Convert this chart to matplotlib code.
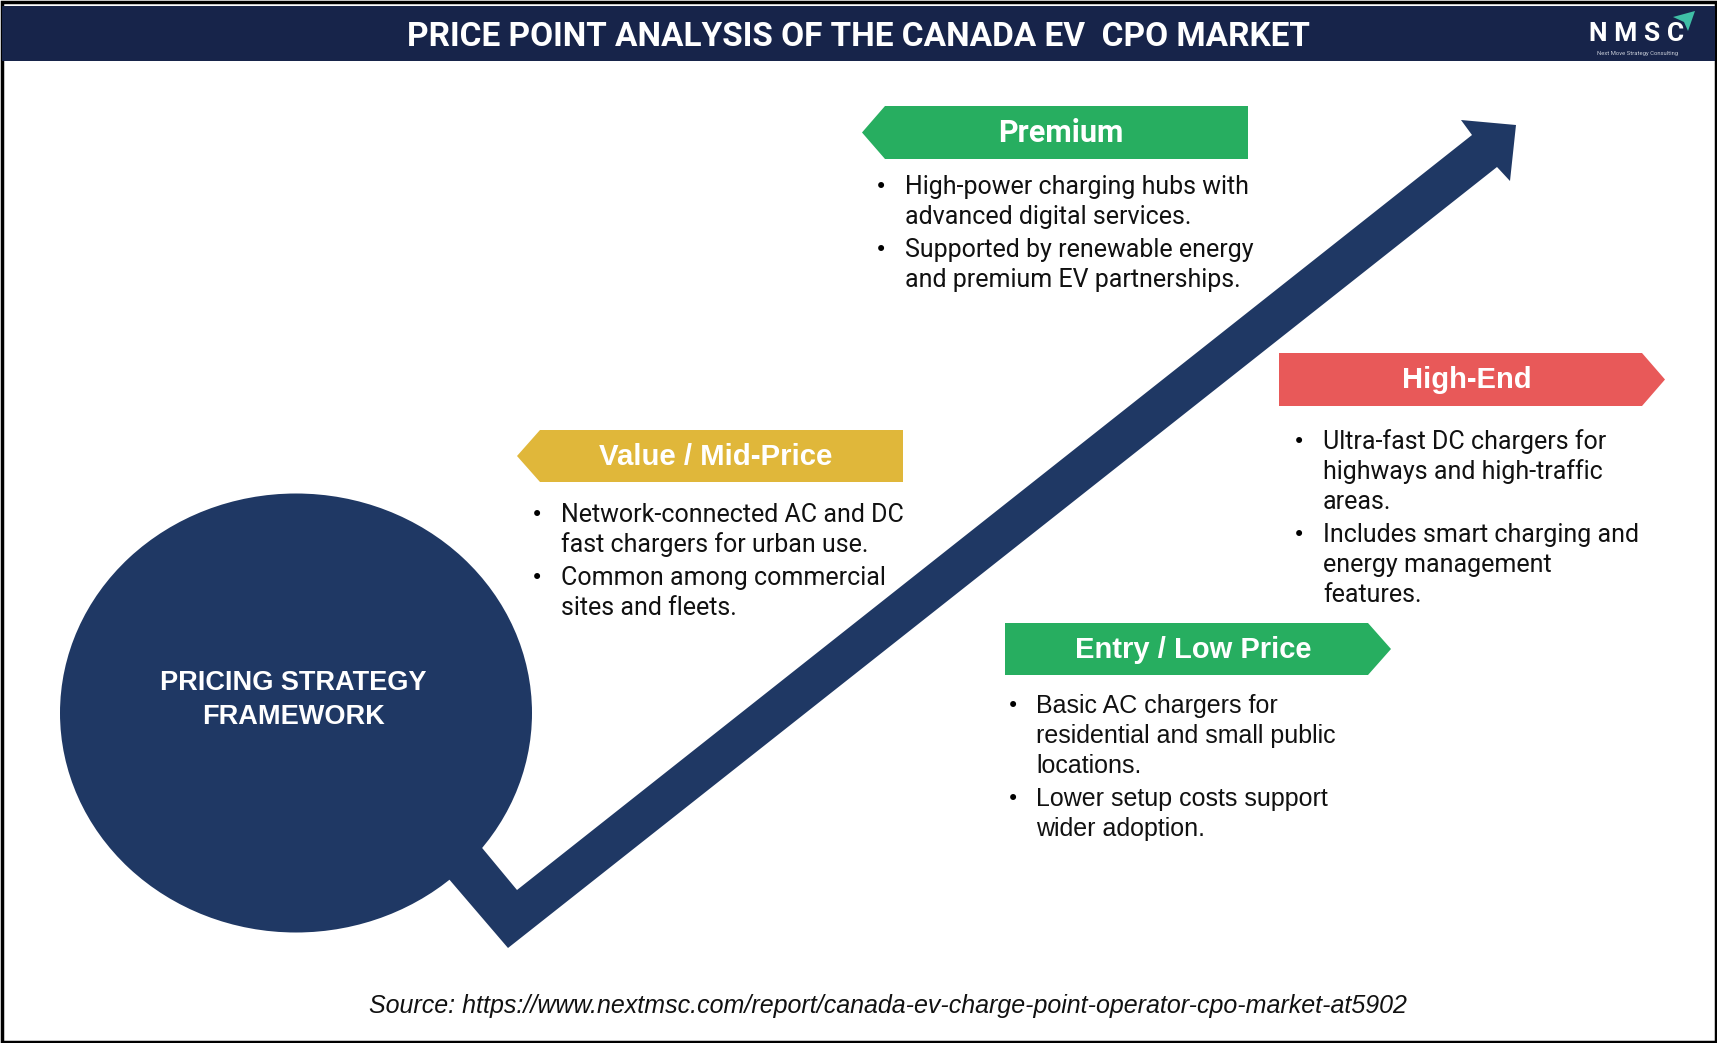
import matplotlib
matplotlib.use('Agg')
import matplotlib.pyplot as plt
from matplotlib.patches import Polygon, Ellipse, Rectangle

# Dane: poziomy cenowe i opisy
tiers = ['Premium', 'Value / Mid-Price', 'High-End', 'Entry / Low Price']
tier_colors = ['#27ae60', '#e0b73a', '#e85959', '#27ae60']
tier_bullets = [
    [['High-power charging hubs with', 'advanced digital services.'],
     ['Supported by renewable energy', 'and premium EV partnerships.']],
    [['Network-connected AC and DC', 'fast chargers for urban use.'],
     ['Common among commercial', 'sites and fleets.']],
    [['Ultra-fast DC chargers for', 'highways and high-traffic', 'areas.'],
     ['Includes smart charging and', 'energy management', 'features.']],
    [['Basic AC chargers for', 'residential and small public', 'locations.'],
     ['Lower setup costs support', 'wider adoption.']],
]
title = 'PRICE POINT ANALYSIS OF THE CANADA EV  CPO MARKET'
center_label = 'PRICING STRATEGY\nFRAMEWORK'
source = 'Source: https://www.nextmsc.com/report/canada-ev-charge-point-operator-cpo-market-at5902'

# Układ (piksele, oś y w dół)
W, H = 1717, 1043
navy = '#1f3864'
header_col = '#17244a'
# banery: lewa, prawa, góra, dół, kierunek grota
banners = [(885, 1248, 106, 159, 'left'),
           (540, 903, 430, 482, 'left'),
           (1279, 1642, 353, 406, 'right'),
           (1005, 1368, 623, 675, 'right')]
banner_fonts = ['Roboto', 'Liberation Sans', 'Liberation Sans', 'Liberation Sans']
banner_sizes = [22, 21.2, 21, 21]
body_fonts = ['Roboto', 'Roboto', 'Roboto', 'Liberation Sans']
# pozycje tekstu: x kropki, x tekstu, y pierwszej linii
text_pos = [(881, 905, 187), (537, 561, 515), (1299, 1323, 442), (1013, 1036, 706)]
line_gap = 30
bullet_gap = 33

fig = plt.figure(figsize=(W / 100, H / 100), dpi=100)
ax = fig.add_axes([0, 0, 1, 1])
ax.set_xlim(0, W)
ax.set_ylim(H, 0)
ax.axis('off')

# Ramka i nagłówek
ax.add_patch(Rectangle((1.5, 1.5), W - 3, H - 3, fill=False, edgecolor='black', linewidth=2.5))
ax.add_patch(Rectangle((2, 6), W - 4, 55, facecolor=header_col, edgecolor='none'))
ax.text(858, 37, title, color='white', fontsize=24, fontweight='bold',
        family='Roboto', ha='center', va='center')

# Logo NMSC
ax.text(1637, 34, 'N M S C', color='white', fontsize=19, fontweight='bold',
        family='Roboto', ha='center', va='center')
ax.add_patch(Polygon([(1673, 17), (1695, 11), (1688, 31), (1684, 22)],
                     closed=True, facecolor='#3fbfa6', edgecolor='none'))
ax.text(1637, 53, 'Next Move Strategy Consulting', color='#c8cdd8', fontsize=4.2,
        family='Roboto', ha='center', va='center')

# Koło
ax.add_patch(Ellipse((296, 713), 472, 439, facecolor=navy, edgecolor='none'))
ax.text(293, 700, center_label, color='white', fontsize=19.5, fontweight='bold',
        family='Liberation Sans', ha='center', va='center', linespacing=1.36)

# Strzałka (kształt "ptaszka")
arrow_pts = [(412, 836), (508, 948), (1497, 167), (1510, 181), (1516, 125),
             (1461, 120), (1472, 135), (517, 890), (444, 802)]
ax.add_patch(Polygon(arrow_pts, closed=True, facecolor=navy, edgecolor='none'))

# Banery i listy
depth = 23
for name, col, bullets, (l, r, t, b, d), bf, bs, tf, (bx, tx, y0) in zip(
        tiers, tier_colors, tier_bullets, banners, banner_fonts, banner_sizes,
        body_fonts, text_pos):
    mid = (t + b) / 2
    if d == 'left':
        pts = [(l, t), (r, t), (r, b), (l, b), (l - depth, mid)]
        shift = -6
    else:
        pts = [(l, t), (r, t), (r + depth, mid), (r, b), (l, b)]
        shift = 6.5
    ax.add_patch(Polygon(pts, closed=True, facecolor=col, edgecolor='none'))
    ax.text((l + r) / 2 + shift, mid + 1, name, color='white', fontsize=bs,
            fontweight='bold', family=bf, ha='center', va='center')
    y = y0
    for lines in bullets:
        ax.text(bx, y, '•', color='black', fontsize=15, family='DejaVu Sans',
                ha='center', va='center')
        for i, line in enumerate(lines):
            ax.text(tx, y, line, color='#111111', fontsize=18, family=tf,
                    ha='left', va='center')
            y += line_gap if i < len(lines) - 1 else bullet_gap

# Źródło
ax.text(888, 1006, source, color='#111111', fontsize=18, style='italic',
        family='Liberation Sans', ha='center', va='center')

fig.savefig('out.png', dpi=100)
